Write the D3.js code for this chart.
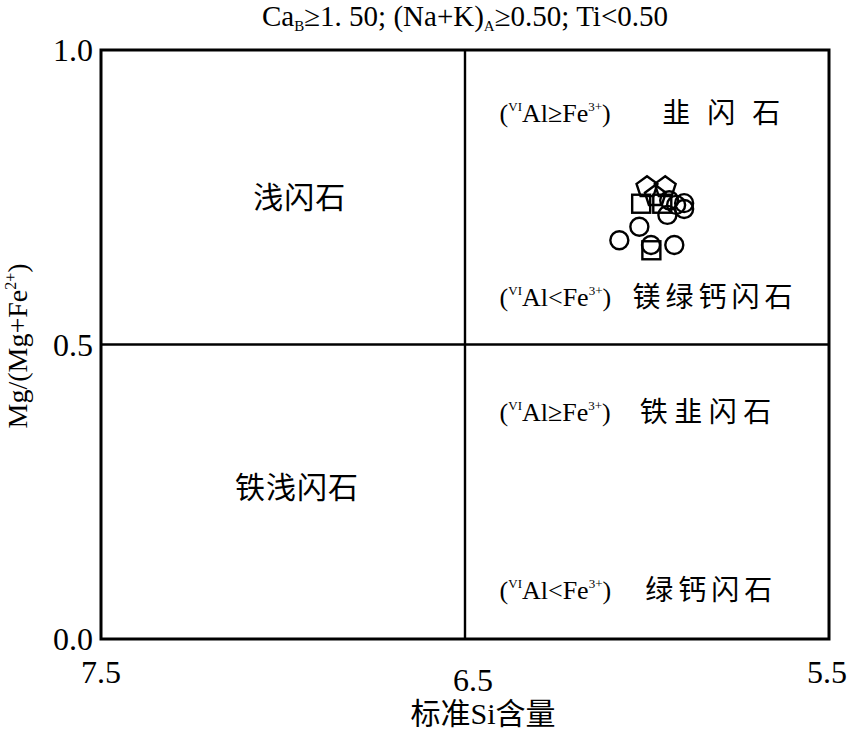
<!DOCTYPE html>
<html><head><meta charset="utf-8">
<script src="https://cdn.jsdelivr.net/npm/d3@7"></script>
<style>
body{margin:0;background:#fff;}
text{font-family:"Liberation Serif","Times New Roman","Noto Sans CJK SC",serif;fill:#000;}
.cn{font-family:"Noto Sans CJK SC",sans-serif;}
</style></head>
<body><svg id="c" width="853" height="734"></svg>
<script>
// ---- data ----
const xDomain = [7.5, 5.5];
const yDomain = [0, 1];
const xTicks = [7.5, 6.5, 5.5];
const yTicks = [0.0, 0.5, 1.0];
const xDivide = 6.5;
const yDivide = 0.5;
const circlesX = [6.076, 6.021, 5.989, 5.925, 5.944, 5.920, 5.898, 5.898, 5.939];
const circlesY = [0.677, 0.700, 0.669, 0.669, 0.720, 0.737, 0.740, 0.730, 0.745];
const squaresX = [6.016, 5.958, 5.988];
const squaresY = [0.739, 0.739, 0.660];
const pentX = [6.000, 5.950, 5.977];
const pentY = [0.767, 0.767, 0.752];
const leftLabels = ["浅闪石", "铁浅闪石"];
const leftLabelX = [7.082, 7.132];
const leftLabelY = [0.750, 0.258];
const rightNames = ["韭闪石", "镁绿钙闪石", "铁韭闪石", "绿钙闪石"];
const rightRel = ["≥", "<", "≥", "<"];
const rightNameX = [5.958, 6.040, 6.020, 6.005];
const rightNameSpacing = [17, 5, 6.5, 5];
const rightY = [0.893, 0.581, 0.385, 0.083];
const rightParenX = 6.405;

// ---- layout ----
const svg = d3.select("#c");
const L = 101, R = 829, T = 50, B = 639;
const x = d3.scaleLinear().domain(xDomain).range([L, R]);
const y = d3.scaleLinear().domain(yDomain).range([B, T]);

// frame
svg.append("rect").attr("x", L).attr("y", T).attr("width", R - L).attr("height", B - T)
  .attr("fill", "none").attr("stroke", "#000").attr("stroke-width", 3);
svg.append("line").attr("x1", x(xDivide)).attr("x2", x(xDivide)).attr("y1", T).attr("y2", B)
  .attr("stroke", "#000").attr("stroke-width", 2.4);
svg.append("line").attr("x1", L).attr("x2", R).attr("y1", y(yDivide)).attr("y2", y(yDivide))
  .attr("stroke", "#000").attr("stroke-width", 2.4);

// y ticks
svg.append("g").selectAll("text").data(yTicks).join("text")
  .attr("x", L - 8).attr("y", d => y(d) + 11)
  .attr("text-anchor", "end").attr("font-size", 32)
  .text(d => d.toFixed(1));
// x ticks
const xTickDy = [0, 8, 0];
const xTickDx = [0, 8, -2];
svg.append("g").selectAll("text").data(xTicks).join("text")
  .attr("x", (d, i) => x(d) + xTickDx[i])
  .attr("y", (d, i) => B + 44 + xTickDy[i])
  .attr("text-anchor", "middle").attr("font-size", 32)
  .text(d => d.toFixed(1));

// axis titles
svg.append("text").attr("x", 483).attr("y", 724)
  .attr("text-anchor", "middle").attr("font-size", 30)
  .text("标准Si含量");
const yt = svg.append("text").attr("transform", "translate(27,346) rotate(-90)")
  .attr("text-anchor", "middle").attr("font-size", 28);
yt.append("tspan").text("Mg/(Mg+Fe");
yt.append("tspan").attr("dy", -11).attr("font-size", 16).text("2+");
yt.append("tspan").attr("dy", 11).text(")");

// title
const tt = svg.append("text").attr("x", 465).attr("y", 26).attr("text-anchor", "middle").attr("font-size", 29);
tt.append("tspan").text("Ca");
tt.append("tspan").attr("dy", 5).attr("font-size", 15).text("B");
tt.append("tspan").attr("dy", -5).text("≥1. 50; (Na+K)");
tt.append("tspan").attr("dy", 5).attr("font-size", 15).text("A");
tt.append("tspan").attr("dy", -5).text("≥0.50; Ti<0.50");

// left labels
svg.append("g").selectAll("text").data(leftLabels).join("text")
  .attr("class", "cn").attr("x", (d, i) => x(leftLabelX[i])).attr("y", (d, i) => y(leftLabelY[i]) + 11)
  .attr("font-size", 30).attr("letter-spacing", 1)
  .text(d => d);

// right labels
rightNames.forEach((nm, i) => {
  const t = svg.append("text").attr("x", x(rightParenX)).attr("y", y(rightY[i]) + 9).attr("font-size", 26);
  t.append("tspan").text("(");
  t.append("tspan").attr("dy", -11).attr("font-size", 13).text("VI");
  t.append("tspan").attr("dy", 11).text("Al" + rightRel[i] + "Fe");
  t.append("tspan").attr("dy", -11).attr("font-size", 13).text("3+");
  t.append("tspan").attr("dy", 11).text(")");
  svg.append("text").attr("class", "cn").attr("x", x(rightNameX[i])).attr("y", y(rightY[i]) + 10)
    .attr("font-size", 28).attr("letter-spacing", rightNameSpacing[i]).text(nm);
});

// points
const g = svg.append("g").attr("fill", "none").attr("stroke", "#000").attr("stroke-width", 2.4);
g.selectAll("circle").data(circlesX).join("circle")
  .attr("cx", d => x(d)).attr("cy", (d, i) => y(circlesY[i])).attr("r", 9);
g.selectAll("rect").data(squaresX).join("rect")
  .attr("x", d => x(d) - 9).attr("y", (d, i) => y(squaresY[i]) - 9).attr("width", 18).attr("height", 18);
const pent = d3.range(5).map(k => {
  const a = -Math.PI / 2 + k * 2 * Math.PI / 5;
  return [11 * Math.cos(a), 11 * Math.sin(a)];
});
g.selectAll("path").data(pentX).join("path")
  .attr("transform", (d, i) => `translate(${x(d)},${y(pentY[i])})`)
  .attr("d", d3.line()(pent) + "Z");
</script></body></html>
